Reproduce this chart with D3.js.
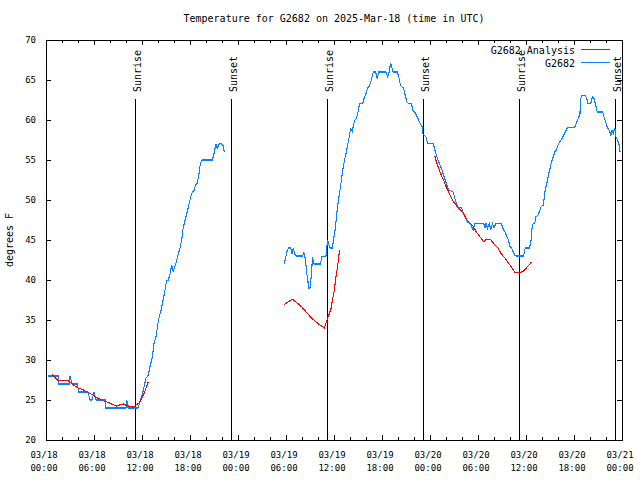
<!DOCTYPE html>
<html>
<head>
<meta charset="utf-8">
<script src="https://cdn.jsdelivr.net/npm/d3@7"></script>
<style>
  body { margin: 0; background: #fff; }
  svg { display: block; }
  text { font-family: "DejaVu Sans Mono", "Liberation Mono", monospace; fill: #000; }
</style>
</head>
<body>
<svg id="chart" width="640" height="480"></svg>
<script>
// ---- data (hours since 2025-03-18 00:00 UTC) ----
const titleText = "Temperature for G2682 on 2025-Mar-18 (time in UTC)";
const yLabel = "degrees F";
const seriesNames = ["G2682 Analysis", "G2682"];
const seriesColors = ["#ff0000", "#0a80ff"];

const obsHours = [0.25,1.6,1.6,2.9,3.0,3.25,3.9,4.0,4.1,5.25,5.5,5.75,6.0,6.25,7.4,7.5,10.0,10.1,10.25,11.5,11.75,12.1,12.5,12.8,13.0,13.3,13.5,13.75,14.0,14.2,14.4,14.6,14.8,15.0,15.1,15.3,15.5,15.7,15.9,16.1,16.3,16.5,16.75,17.0,17.1,17.25,17.5,17.7,17.9,18.1,18.3,18.5,18.7,18.9,19.1,19.3,19.5,20.8,21.0,21.25,21.4,21.6,21.8,22.1,22.3,
  26.0,
  29.75,29.9,30.1,30.3,30.6,30.75,30.9,31.1,31.3,32.1,32.2,32.35,32.5,32.6,32.75,32.8,33.0,33.2,33.3,33.4,33.5,34.3,34.5,35.0,35.1,35.2,35.3,35.5,35.8,36.0,36.2,36.3,36.5,36.75,36.9,37.1,37.25,37.4,37.6,37.75,37.9,38.0,38.1,38.3,38.4,38.6,38.8,39.0,39.2,39.6,39.75,40.0,40.2,40.4,40.6,40.8,40.9,41.2,41.4,41.6,42.5,42.7,42.9,43.0,43.1,43.25,43.4,43.9,44.1,44.25,44.4,44.7,44.9,45.1,45.3,45.7,45.8,46.1,46.3,46.5,46.75,47.0,47.1,47.25,47.5,47.7,48.4,48.6,48.8,49.0,49.25,49.5,49.7,49.9,50.1,50.3,50.9,51.1,51.3,51.4,51.95,52.1,52.25,52.5,52.7,53.0,53.2,53.4,53.6,54.7,54.9,55.0,55.2,55.4,55.6,55.8,56.0,56.25,56.9,57.2,57.4,57.6,57.8,58.0,58.2,58.4,58.6,58.75,59.7,59.9,60.4,60.6,60.75,60.9,61.1,61.25,61.5,61.75,61.9,62.2,62.3,62.5,62.7,62.8,63.0,63.2,63.4,63.6,63.8,64.0,64.25,64.5,64.7,64.9,65.2,66.1,66.3,66.5,66.75,66.8,67.0,67.4,67.6,67.7,68.1,68.3,68.5,68.75,68.9,69.6,69.75,70.0,70.2,70.4,70.6,70.75,70.9,71.1,71.25,71.5,71.7,71.75];
const obsTemps = [28,28,27,27,28,27,27,26.5,26,26,25,25,26,25,25,24,24,25,24,24,24.75,25.9,27.75,28.1,29.2,30.4,32.1,32.9,34.6,35.6,36.25,37.3,38.3,39.5,39.9,40,40.75,41.9,41,41.7,42.3,43.1,44,45.25,46.25,46.9,47.9,48.75,49.6,50.4,51,51.2,51.9,52.1,53.1,54.6,55,55,55.8,57,56.5,56.9,57.1,56.9,56,
  null,
  42,42.5,43.5,44,44,43.25,44,43.25,43,43,43.5,43,41.9,40.8,39.8,39,39,40.8,42.9,42.5,42,42,42.9,43,44,45,44.6,44,44,45.4,46.7,47.9,49.6,51.25,52.3,53.75,54.6,55.4,56.25,57.1,57.9,58.5,58.9,58.5,59.2,60,60.2,61,62.1,62.1,62.7,63.3,64,64.2,64.8,65.6,66,66,65.2,66,66,65.4,66,66.7,67.1,66.5,66,66,65.4,64.6,64.2,64,63.1,62.3,62.1,62.1,61.25,61,60.6,60.2,59.6,59.2,58.3,58.1,57.9,57.1,57.1,56.25,55.6,55,54.4,53.75,53.1,52.5,51.9,51.25,51,50.2,49.6,49.1,49.1,48.5,48.1,47.7,47.2,47.1,46.7,46.25,47.1,47.1,46.5,47.1,46.5,47.1,46.25,47.1,46.5,47.1,47.1,46.25,46,45.4,45,44.2,44,43.5,43.1,43,43,44,44,44.6,46.5,47.1,47.1,47.9,48.1,48.75,49.2,49.4,50.6,51.7,52.5,53.1,53.9,54.8,55.4,56,56.25,56.9,57.3,57.7,58.1,58.5,59.1,59.1,59.6,60.1,60.8,62.5,63.1,63.1,62.7,62.1,62.1,62.9,62.7,61.7,61,61,60.4,59.6,59,58.75,58.1,58.75,58.3,59,57.9,57.3,56.7,56];

const anaHours = [0.75,0.9,1.25,1.5,2.8,3.2,3.6,4.0,4.7,5.1,5.5,5.9,6.3,6.75,7.2,7.6,8.0,8.4,8.8,9.25,9.7,10.1,10.5,10.9,11.3,11.7,11.9,12.25,12.5,12.8,
  20.0,
  29.75,30.3,30.8,31.3,32.0,32.6,33.2,33.8,34.5,34.8,35.0,35.3,35.6,35.8,36.0,36.25,36.5,36.7,
  42.0,
  48.6,48.8,49.0,49.25,49.5,49.7,49.9,50.1,50.3,50.5,50.7,50.9,51.3,51.75,52.2,52.6,53.0,53.4,53.8,54.25,54.7,55.1,55.5,55.7,56.1,56.5,56.9,57.4,57.8,58.2,58.6,59.0,59.5,59.9,60.2,60.5,60.7];
const anaTemps = [28.25,28,27.7,27.4,27.4,27.1,26.75,26.5,26.25,26,25.8,25.6,25.3,25.1,24.9,24.75,24.6,24.4,24.25,24.4,24.5,24.3,24.2,24.1,24.4,24.7,25.1,25.8,26.5,27.3,
  null,
  36.9,37.3,37.6,37.2,36.6,35.9,35.25,34.7,34.2,34,34.6,35.5,36.3,37.5,38.5,40.4,42.1,43.75,
  null,
  55.5,54.8,54.2,53.5,52.9,52.5,51.9,51.5,51.1,50.6,50.2,49.8,49.4,48.8,48.3,47.5,47.1,46.7,46,45.4,44.8,45.1,45.1,44.9,44.4,44,43.3,42.7,42.1,41.6,41.0,40.95,41.0,41.3,41.7,42,42.3];

const sunHours = [11.12, 23.12, 35.12, 47.12, 59.12, 71.12];
const sunLabels = ["Sunrise", "Sunset", "Sunrise", "Sunset", "Sunrise", "Sunset"];
const yTicks = [20, 25, 30, 35, 40, 45, 50, 55, 60, 65, 70];
const majorTickHours = [0, 6, 12, 18, 24, 30, 36, 42, 48, 54, 60, 66, 72];
const minorTickHours = [2, 4, 8, 10, 14, 16, 20, 22, 26, 28, 32, 34, 38, 40, 44, 46, 50, 52, 56, 58, 62, 64, 68, 70];

// ---- layout ----
const base = Date.UTC(2025, 2, 18, 0, 0);
const t = h => new Date(base + h * 3600e3);
const L = 46, R = 622, T = 40, B = 440;

const svg = d3.select("#chart");
const x = d3.scaleUtc().domain([t(0), t(72)]).range([L, R]);
const y = d3.scaleLinear().domain([20, 70]).range([B, T]);

// title
svg.append("text").attr("x", 334).attr("y", 22).attr("text-anchor", "middle")
  .style("font-size", "10px").text(titleText);

// y label
svg.append("text").attr("transform", "translate(13,240) rotate(-90)")
  .attr("text-anchor", "middle").style("font-size", "10px").text(yLabel);

// axes (inward ticks)
function styleAxis(g) {
  g.select(".domain").remove();
  g.selectAll(".tick line").attr("stroke", "#000");
}
svg.append("g").attr("transform", `translate(0,${B})`)
  .call(d3.axisBottom(x).tickValues(majorTickHours.map(t)).tickSize(-5).tickFormat(""))
  .call(styleAxis);
svg.append("g").attr("transform", `translate(0,${B})`)
  .call(d3.axisBottom(x).tickValues(minorTickHours.map(t)).tickSize(-3).tickFormat(""))
  .call(styleAxis);
svg.append("g").attr("transform", `translate(0,${T})`)
  .call(d3.axisTop(x).tickValues(majorTickHours.map(t)).tickSize(-5).tickFormat(""))
  .call(styleAxis);
svg.append("g").attr("transform", `translate(0,${T})`)
  .call(d3.axisTop(x).tickValues(minorTickHours.map(t)).tickSize(-3).tickFormat(""))
  .call(styleAxis);

const yAxisG = svg.append("g").attr("transform", `translate(${L},0)`)
  .call(d3.axisLeft(y).tickValues(yTicks).tickSize(-5).tickPadding(10).tickFormat(d3.format("d")))
  .call(styleAxis);
yAxisG.selectAll(".tick text").style("font-family", "DejaVu Sans Mono, monospace").style("font-size", "9px");
svg.append("g").attr("transform", `translate(${R},0)`)
  .call(d3.axisRight(y).tickValues(yTicks).tickSize(-5).tickFormat(""))
  .call(styleAxis);

// x tick labels (two lines)
const fmtDate = d3.utcFormat("%m/%d"), fmtTime = d3.utcFormat("%H:%M");
const xl = svg.append("g");
majorTickHours.forEach(h => {
  const d = t(h);
  const tx = xl.append("text").attr("x", x(d) - 2).attr("text-anchor", "middle").style("font-size", "9px");
  tx.append("tspan").attr("x", x(d) - 2).attr("y", 458).text(fmtDate(d));
  tx.append("tspan").attr("x", x(d) - 2).attr("y", 471).text(fmtTime(d));
});

// frame
svg.append("rect").attr("x", L + 0.5).attr("y", T + 0.5).attr("width", R - L).attr("height", B - T)
  .attr("fill", "none").attr("stroke", "#000");

// sunrise/sunset lines
sunHours.forEach((h, i) => {
  const sx = Math.round(x(t(h))) + 0.5;
  svg.append("line").attr("x1", sx).attr("x2", sx).attr("y1", 99).attr("y2", B)
    .attr("stroke", "#000").attr("stroke-width", 1);
  svg.append("text").attr("transform", `translate(${sx + 5},92) rotate(-90)`)
    .attr("text-anchor", "start").style("font-size", "10px").text(sunLabels[i]);
});

// data lines
const line = d3.line().defined(d => d[1] != null).x(d => x(t(d[0]))).y(d => y(d[1]));
const anaData = anaHours.map((h, i) => [h, anaTemps[i]]);
const obsData = obsHours.map((h, i) => [h, obsTemps[i]]);

svg.append("path").datum(obsData).attr("d", line).attr("fill", "none")
  .attr("stroke", seriesColors[1]).attr("stroke-width", 1.1).attr("shape-rendering", "crispEdges");
svg.append("path").datum(anaData).attr("d", line).attr("fill", "none")
  .attr("stroke", seriesColors[0]).attr("stroke-width", 1.1).attr("shape-rendering", "crispEdges");

// legend
const legY = [49.5, 62.5];
seriesNames.forEach((n, i) => {
  svg.append("text").attr("x", 575).attr("y", legY[i] + 4).attr("text-anchor", "end")
    .style("font-size", "10px").text(n);
  svg.append("line").attr("x1", 581).attr("x2", 610).attr("y1", legY[i]).attr("y2", legY[i])
    .attr("stroke", seriesColors[i]).attr("stroke-width", 1);
});
</script>
</body>
</html>
